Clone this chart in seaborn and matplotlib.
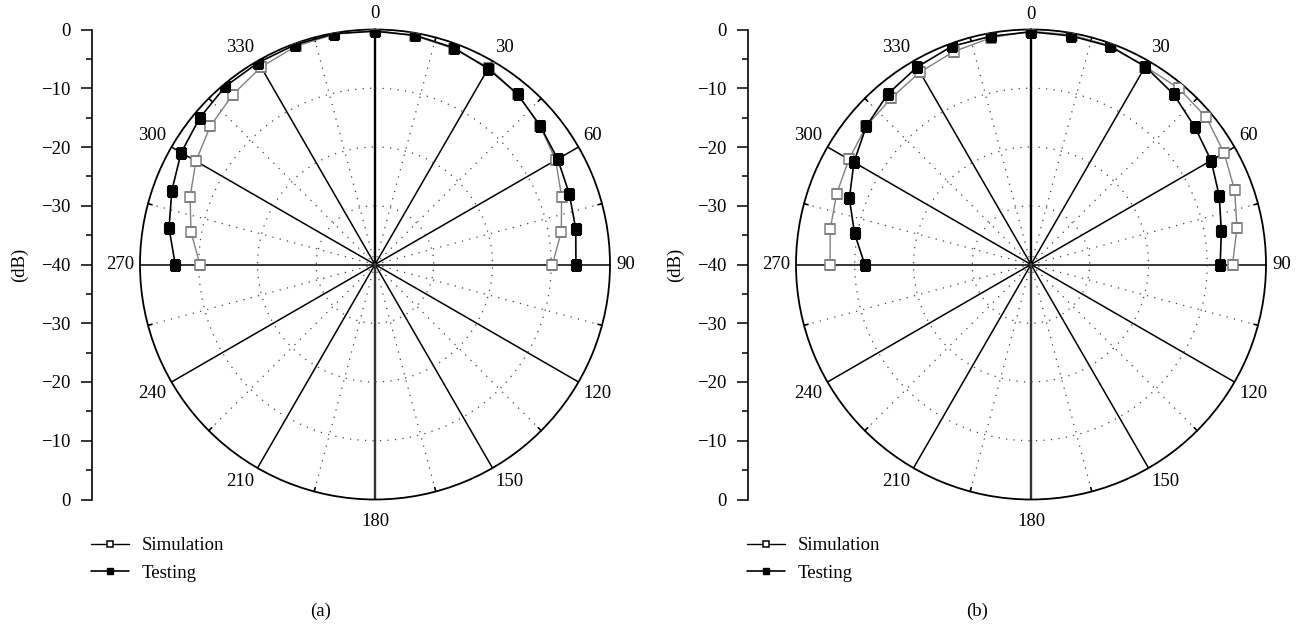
import numpy as np
import pandas as pd
import matplotlib
matplotlib.use("Agg")
import matplotlib.pyplot as plt
from matplotlib.lines import Line2D
import seaborn as sns

# ---------------- data ----------------
angles_deg = [270, 280, 290, 300, 310, 320, 330, 340, 350, 0,
              10, 20, 30, 40, 50, 60, 70, 80, 90]

sim_a = [-10.2, -8.2, -6.5, -4.8, -3.4, -2.3, -1.2, -0.5, -0.2, -0.1,
         -0.5, -0.9, -1.3, -2.2, -3.3, -4.5, -6.2, -7.8, -9.8]
test_a = [-6.0, -4.4, -3.2, -1.9, -1.1, -0.4, -0.3, -0.2, -0.1, -0.3,
          -0.4, -0.75, -1.5, -2.2, -3.3, -4.1, -4.8, -5.3, -5.8]

sim_b = [-5.8, -5.3, -4.8, -4.2, -3.4, -3.0, -2.2, -1.45, -0.8, -0.3,
         -0.3, -0.4, -1.1, -0.86, -1.05, -2.05, -3.1, -4.4, -5.7]
test_b = [-11.7, -9.5, -7.1, -5.2, -3.4, -2.1, -1.2, -0.5, -0.55, -0.4,
          -0.5, -0.5, -1.1, -2.2, -3.6, -4.6, -5.9, -7.1, -7.8]

angle_ticks = [0, 30, 60, 90, 120, 150, 180, 210, 240, 270, 300, 330]
angle_labels = ["0", "30", "60", "90", "120", "150", "180", "210", "240", "270", "300", "330"]
db_ticks = [0, 10, 20, 30, 40, 50, 60, 70, 80]
db_tick_labels = ["0", "\u221210", "\u221220", "\u221230", "\u221240",
                  "\u221230", "\u221220", "\u221210", "0"]
series_names = ["Simulation", "Testing"]
panel_labels = ["(a)", "(b)"]
panels = [(sim_a, test_a), (sim_b, test_b)]

# ---------------- style ----------------
sns.set_theme(style="white")
plt.rcParams["font.family"] = ["Liberation Serif", "DejaVu Serif"]
for k in ["text.color", "axes.labelcolor", "xtick.color", "ytick.color", "axes.edgecolor"]:
    plt.rcParams[k] = "black"

W, H = 1302, 625
fig = plt.figure(figsize=(W / 100, H / 100), dpi=100)
fig.patch.set_facecolor("white")

R = 235.0
cy = 264.5
centers_x = [375.0, 1031.0]
axis_x = [91.7, 747.7]
legend_x = [91.0, 747.0]
panel_label_x = [321.0, 977.0]
FS = 13.5
GRAY = "#808080"

theta = np.deg2rad([a if a <= 180 else a - 360 for a in angles_deg])

for i, (sim, test) in enumerate(panels):
    cx = centers_x[i]
    ax = fig.add_axes([(cx - R) / W, (H - cy - R) / H, 2 * R / W, 2 * R / H],
                      projection="polar")
    ax.set_facecolor("white")
    ax.set_theta_zero_location("N")
    ax.set_theta_direction(-1)
    ax.set_ylim(-40, 0)
    ax.set_yticks([-30, -20, -10])
    ax.set_yticklabels([])
    ax.set_xticks(np.deg2rad(angle_ticks))
    ax.set_xticklabels([])
    ax.xaxis.grid(True, color="black", lw=1.1, ls="-")
    ax.yaxis.grid(True, color="#444444", lw=0.9, ls=(0, (1, 5)))
    ax.spines["polar"].set_color("black")
    ax.spines["polar"].set_linewidth(1.3)
    ax.set_axisbelow(True)

    # angle labels, edge-aligned just outside the circle
    for a, lab in zip(angle_ticks, angle_labels):
        s, c = np.sin(np.deg2rad(a)), np.cos(np.deg2rad(a))
        ha = "left" if s > 0.1 else ("right" if s < -0.1 else "center")
        va = "bottom" if c > 0.1 else ("top" if c < -0.1 else "center")
        if abs(s) > 0.1:
            gap = 6.0
        else:
            gap = 7.0 if c > 0 else 13.0
        ax.annotate(lab, xy=(np.deg2rad(a), 0), xytext=(gap * s, gap * c),
                    textcoords="offset pixels", ha=ha, va=va, fontsize=FS,
                    annotation_clip=False)

    # heavier vertical spoke, dotted intermediate spokes, outer small ticks
    ax.plot([0, 0], [-40, 0], color="black", lw=1.7, zorder=1)
    ax.plot([np.pi, np.pi], [-40, 0], color="#333333", lw=1.7, zorder=1)
    for a in range(15, 360, 30):
        th = np.deg2rad(a)
        ax.plot([th, th], [-40, 0], color="#444444", lw=0.9, ls=(0, (1, 5)), zorder=1)
        ax.plot([th, th], [-0.7, 0], color="black", lw=1.2, zorder=2, clip_on=False)

    sns.lineplot(x=theta, y=sim, ax=ax, sort=False, estimator=None, color=GRAY,
                 lw=1.0, marker="s", markersize=7, markerfacecolor="white",
                 markeredgecolor=GRAY, markeredgewidth=1.1, zorder=4)
    sns.lineplot(x=theta, y=test, ax=ax, sort=False, estimator=None, color="black",
                 lw=1.2, marker="s", markersize=7, markerfacecolor="black",
                 markeredgecolor="black", markeredgewidth=0.8, zorder=5)
    if ax.get_legend() is not None:
        ax.get_legend().remove()
    ax.set_xlabel("")
    ax.set_ylabel("")

    # left linear dB axis
    lax = fig.add_axes([axis_x[i] / W, (H - cy - R) / H, 0.0005, 2 * R / H])
    lax.patch.set_visible(False)
    lax.set_ylim(0, 80)
    lax.set_yticks(db_ticks)
    lax.set_yticklabels(db_tick_labels)
    lax.set_yticks([5, 15, 25, 35, 45, 55, 65, 75], minor=True)
    lax.set_xticks([])
    for s_ in ["top", "right", "bottom"]:
        lax.spines[s_].set_visible(False)
    lax.spines["left"].set_linewidth(1.2)
    lax.spines["left"].set_color("black")
    lax.tick_params(axis="y", which="major", direction="out", length=8, width=1.1,
                    labelsize=FS, pad=7.5, left=True)
    lax.tick_params(axis="y", which="minor", direction="out", length=4, width=1.1,
                    left=True)
    fig.text((axis_x[i] - 72) / W, (H - cy) / H, "(dB)", rotation=90,
             ha="center", va="center", fontsize=FS)

    handles = [
        Line2D([], [], color="black", lw=1.0, marker="s", markersize=5,
               markerfacecolor="white", markeredgecolor="black", markeredgewidth=1.1),
        Line2D([], [], color="black", lw=1.2, marker="s", markersize=5,
               markerfacecolor="black", markeredgecolor="black"),
    ]
    fig.legend(handles, series_names, loc="upper left",
               bbox_to_anchor=(legend_x[i] / W, 1 - 537 / H),
               frameon=False, fontsize=FS, handlelength=2.0, handletextpad=0.7,
               labelspacing=0.55, borderpad=0, borderaxespad=0)

    fig.text(panel_label_x[i] / W, 1 - 611 / H, panel_labels[i],
             ha="center", va="center", fontsize=FS)

fig.savefig("out.png", dpi=100, facecolor="white")
